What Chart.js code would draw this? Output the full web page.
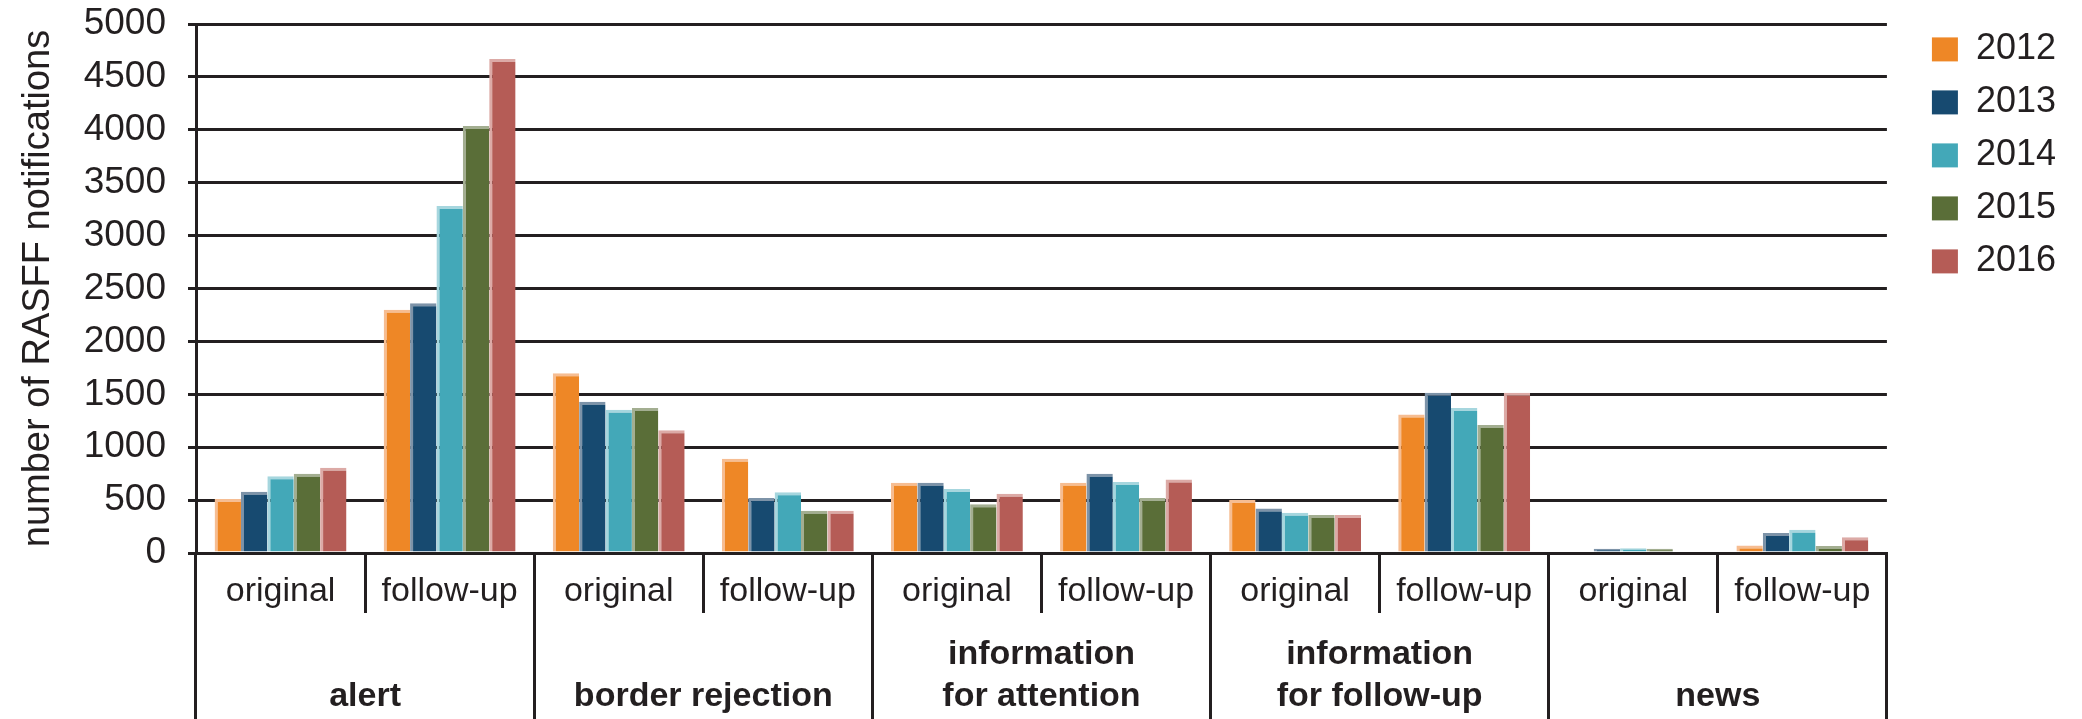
<!DOCTYPE html>
<html>
<head>
<meta charset="utf-8">
<title>RASFF notifications</title>
<script src="https://cdn.jsdelivr.net/npm/chart.js@4.4.1/dist/chart.umd.min.js"></script>
<style>
    html, body { margin: 0; padding: 0; background: #fff; }
    #wrap { width: 2082px; height: 719px; position: relative; }
</style>
</head>
<body>
<div id="wrap"><canvas id="myChart"></canvas></div>
<script>
// sub categories (bottom row 1) and the groups (bottom row 2)
const subLabels = [
    'original', 'follow-up',
    'original', 'follow-up',
    'original', 'follow-up',
    'original', 'follow-up',
    'original', 'follow-up'
];
const groupLabels = [
    ['', 'alert'],
    ['', 'border rejection'],
    ['information', 'for attention'],
    ['information', 'for follow-up'],
    ['', 'news']
];
const years = ['2012', '2013', '2014', '2015', '2016'];

// values
const v2012 = [510, 2300, 1700, 890, 665, 665, 500, 1310, 0, 70];
const v2013 = [580, 2360, 1430, 520, 665, 750, 420, 1515, 40, 190];
const v2014 = [725, 3280, 1355, 575, 605, 670, 380, 1370, 45, 220];
const v2015 = [750, 4035, 1370, 400, 460, 520, 360, 1210, 40, 65];
const v2016 = [805, 4670, 1160, 400, 560, 695, 360, 1515, 0, 150];

const yTicks = [0, 500, 1000, 1500, 2000, 2500, 3000, 3500, 4000, 4500, 5000];

const colors = ['#ee8726', '#174a70', '#43a8b8', '#5a6e38', '#b55c56'];
// the light edge the bars have on the left and on top
const edges = ['#f6bd92', '#7d93a8', '#a6d6de', '#a3ae91', '#dcaaa6'];
const ink = '#231f20';

Chart.defaults.font.family = "'Liberation Sans', Arial, sans-serif";
Chart.defaults.color = ink;

const displayChart = () => {
    const series = [v2012, v2013, v2014, v2015, v2016];

    const datasets = years.map((year, i) => ({
        label: year,
        data: series[i],
        backgroundColor: colors[i],
        borderColor: edges[i],
        borderWidth: { left: 3, top: 3, right: 0, bottom: 0 },
        borderSkipped: false,
        categoryPercentage: 0.78,
        barPercentage: 1.0,
        xAxisID: 'x',
        yAxisID: 'y'
    }));

    const ctx = document.getElementById('myChart').getContext('2d');
    const myChart = new Chart(ctx, {
        type: 'bar',
        data: {
            labels: subLabels,
            datasets: datasets
        },
        options: {
            responsive: true,
            maintainAspectRatio: false,
            animation: false,
            layout: { padding: { top: 0, right: 16, left: 0, bottom: 0 } },
            plugins: {
                tooltip: { enabled: false },
                legend: {
                    position: 'right',
                    align: 'start',
                    title: { display: true, text: ' ', padding: 0, font: { size: 12 } },
                    labels: {
                        boxWidth: 26,
                        boxHeight: 24,
                        padding: 17,
                        color: ink,
                        font: { size: 36 },
                        generateLabels: (chart) => chart.data.datasets.map((ds, i) => ({
                            text: ds.label,
                            fillStyle: colors[i],
                            strokeStyle: colors[i],
                            lineWidth: 0,
                            fontColor: ink,
                            hidden: false,
                            datasetIndex: i
                        }))
                    }
                }
            },
            scales: {
                x: {
                    type: 'category',
                    position: 'bottom',
                    weight: 0,
                    offset: true,
                    grid: {
                        offset: true,
                        drawOnChartArea: false,
                        tickLength: 60,
                        color: ink,
                        lineWidth: 3
                    },
                    border: { display: true, color: ink, width: 3 },
                    ticks: {
                        autoSkip: false,
                        maxRotation: 0,
                        minRotation: 0,
                        padding: -42,
                        color: ink,
                        font: { size: 34 }
                    },
                    afterFit: (scale) => { scale.height = 60; }
                },
                x2: {
                    type: 'category',
                    position: 'bottom',
                    weight: 1,
                    labels: groupLabels,
                    offset: true,
                    grid: {
                        offset: true,
                        drawOnChartArea: false,
                        tickLength: 106,
                        color: ink,
                        lineWidth: 3
                    },
                    border: { display: false },
                    ticks: {
                        autoSkip: false,
                        maxRotation: 0,
                        minRotation: 0,
                        padding: -86,
                        color: ink,
                        font: { size: 34, weight: 'bold', lineHeight: 1.25 }
                    },
                    afterFit: (scale) => { scale.height = 106; }
                },
                y: {
                    type: 'linear',
                    position: 'left',
                    min: 0,
                    max: 5000,
                    afterBuildTicks: (scale) => { scale.ticks = yTicks.map(v => ({ value: v })); },
                    grid: {
                        color: ink,
                        lineWidth: 3,
                        tickLength: 8
                    },
                    border: { display: true, color: ink, width: 3 },
                    ticks: {
                        padding: 22,
                        color: ink,
                        font: { size: 37 },
                        callback: (value) => String(value)
                    },
                    title: {
                        display: true,
                        text: 'number of RASFF notifications',
                        color: ink,
                        font: { size: 38 },
                        padding: { top: 16, bottom: 8 }
                    },
                    afterFit: (scale) => {
                        scale.width = 196;
                        // plot top sits at the 5000 line, y = 24
                        scale.paddingTop = 24;
                    }
                },
                // empty axis, only keeps a gap between the plot and the legend
                yGap: {
                    type: 'linear',
                    position: 'right',
                    display: true,
                    grid: { display: false },
                    border: { display: false },
                    ticks: { display: false },
                    afterFit: (scale) => { scale.width = 28; }
                }
            }
        }
    });
};

displayChart();
</script>
</body>
</html>
